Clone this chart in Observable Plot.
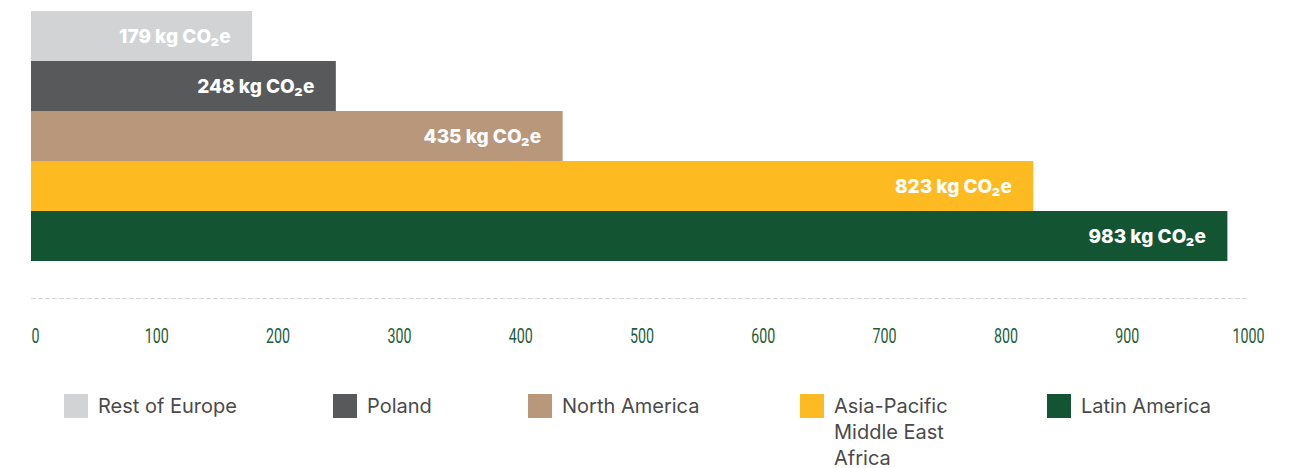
<!DOCTYPE html>
<html>
<head>
<meta charset="utf-8">
<script src="https://cdn.jsdelivr.net/npm/d3@7"></script>
<script src="https://cdn.jsdelivr.net/npm/@observablehq/plot@0.6"></script>
<style>
  html, body { margin: 0; padding: 0; background: #fff; }
  #wrap { position: relative; width: 1292px; height: 468px; overflow: hidden; }
  #chart svg { display: block; }
  .leg { position: absolute; top: 393px; display: flex; align-items: flex-start;
         font-family: Inter, "Noto Sans", sans-serif; font-size: 20px; line-height: 26px; color: #4a4a4a; }
  .sw { width: 24px; height: 24px; margin-top: 1px; margin-right: 10px; flex: none; }
</style>
</head>
<body>
<div id="wrap">
  <div id="chart"></div>
  <div id="legend"></div>
</div>
<script>
const regions = ["Rest of Europe", "Poland", "North America", "Asia-Pacific Middle East Africa", "Latin America"];
const legendLabels = ["Rest of Europe", "Poland", "North America", "Asia-Pacific<br>Middle East<br>Africa", "Latin America"];
const values = [179, 248, 435, 823, 983];
const colors = ["#d1d3d4", "#58595b", "#b9977b", "#fdba21", "#135532"];
const xTicks = [0, 100, 200, 300, 400, 500, 600, 700, 800, 900, 1000];
const legendLeft = [64, 333, 528, 800, 1047];

const data = regions.map((r, i) => ({region: r, value: values[i]}));

const chart = Plot.plot({
  width: 1292,
  height: 362,
  marginLeft: 35,
  marginRight: 44,
  marginTop: 10,
  marginBottom: 64,
  x: {domain: [0, 1000]},
  y: {domain: regions, range: [10, 261], padding: 0, axis: null},
  color: {domain: regions, range: colors},
  marks: [
    Plot.frame({anchor: "bottom", stroke: "#d6d6d6", strokeDasharray: "4,3", insetLeft: -4}),
    Plot.barX(data, {x: "value", y: "region", fill: "region", insetLeft: -4}),
    Plot.text(data, {
      x: "value", y: "region",
      text: d => `${d.value} kg CO₂e`,
      textAnchor: "end", dx: -22,
      fill: "white", fontWeight: 800, fontSize: 19,
      fontFamily: "Inter, 'Noto Sans', sans-serif"
    }),
    Plot.axisX({
      ticks: xTicks, tickSize: 0, tickPadding: 30,
      tickFormat: d => String(d),
      fill: "#1d5e3a", fontSize: 21,
      fontFamily: "Roboto, 'Liberation Sans', sans-serif",
      label: null
    })
  ]
});
// condense axis digits to match the narrow typeface of the reference
d3.select(chart).selectAll("g[aria-label='x-axis tick label'] text").each(function() {
  const n = this.textContent.length;
  this.setAttribute("textLength", n * 8);
  this.setAttribute("lengthAdjust", "spacingAndGlyphs");
});
document.getElementById("chart").appendChild(chart);

const legend = document.getElementById("legend");
regions.forEach((r, i) => {
  const item = document.createElement("div");
  item.className = "leg";
  item.style.left = legendLeft[i] + "px";
  item.innerHTML = `<div class="sw" style="background:${colors[i]}"></div><div>${legendLabels[i]}</div>`;
  legend.appendChild(item);
});
</script>
</body>
</html>
